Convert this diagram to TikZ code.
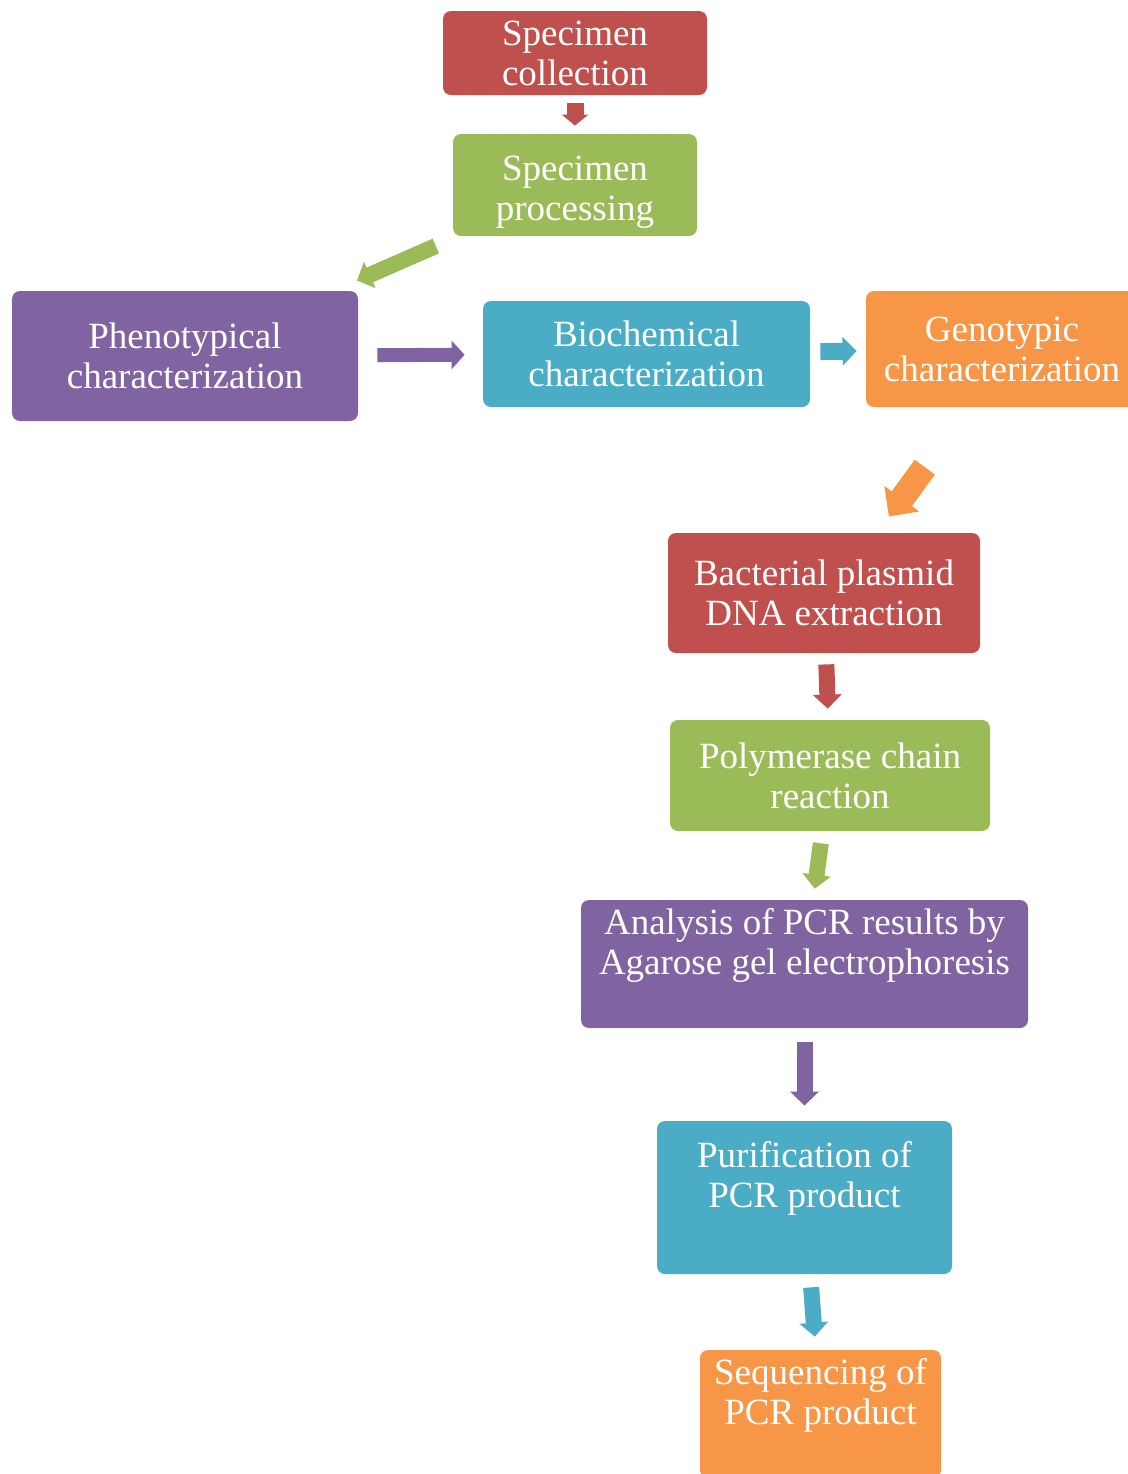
\documentclass[tikz,border=0pt]{standalone}
\usepackage{fontspec}
\setmainfont{Liberation Serif}
\usetikzlibrary{arrows.meta}
\definecolor{stepred}{HTML}{C0504D}
\definecolor{stepgreen}{HTML}{9BBB59}
\definecolor{steppurple}{HTML}{8064A2}
\definecolor{stepblue}{HTML}{4BACC6}
\definecolor{steporange}{HTML}{F79646}
\begin{document}
\begin{tikzpicture}[x=0.5pt,y=-0.5pt]
  \tikzset{
    stage/.style={
      rectangle,
      rounded corners=4pt,
      text=white,
      align=center,
      inner sep=2pt,
      font=\fontsize{18.5}{20}\selectfont,
      execute at begin node={\rule{0pt}{15.5pt}}
    },
    flow/.style={
      line width=8pt,
      -{Triangle[width=14pt,length=7pt]}
    },
    bigflow/.style={
      line width=12.5pt,
      -{Triangle[width=21pt,length=11pt]}
    }
  }

  \useasboundingbox (0,0) rectangle (1128,1474);

  \node[stage, fill=stepred, minimum width=132pt, minimum height=42pt] (sc) at (575,53) {Specimen\\collection};
  \node[stage, fill=stepgreen, minimum width=122pt, minimum height=51pt] (sp) at (575,185) {\rule{0pt}{19pt}Specimen\\processing};
  \node[stage, fill=steppurple, minimum width=173pt, minimum height=65pt] (ph) at (185,356) {Phenotypical\\characterization};
  \node[stage, fill=stepblue, minimum width=163.5pt, minimum height=53pt] (bc) at (646.5,354) {Biochemical\\characterization};
  \node[stage, fill=steporange, minimum width=136pt, minimum height=58pt] (gt) at (1002,349) {Genotypic\\characterization};
  \node[stage, fill=stepred, minimum width=156pt, minimum height=60pt] (bp) at (824,593) {Bacterial plasmid\\DNA extraction};
  \node[stage, fill=stepgreen, minimum width=160pt, minimum height=55.5pt] (pcr) at (830,775.5) {Polymerase chain\\reaction};
  \node[stage, fill=steppurple, minimum width=223.5pt, minimum height=64pt] (an) at (804.5,964) {Analysis of PCR results by\\Agarose gel electrophoresis\\[-3pt]\strut};
  \node[stage, fill=stepblue, minimum width=147.5pt, minimum height=76.5pt] (pu) at (804.5,1197.5) {Purification of\\PCR product\\[-3pt]\strut};
  \node[stage, fill=steporange, minimum width=120.5pt, minimum height=64pt] (sq) at (820.5,1414) {Sequencing of\\PCR product\\[-3pt]\strut};

  \draw[stepred, line width=8.5pt, -{Triangle[width=13pt,length=5.5pt]}, shorten <=4pt, shorten >=4pt] (sc) -- (sp);
  \draw[stepgreen, flow, shorten <=12pt, shorten >=12.5pt] (sp) -- (ph);
  \draw[steppurple, line width=7pt, -{Triangle[width=14pt,length=6.5pt]}, shorten <=9.5pt, shorten >=9pt] (ph) -- (bc);
  \draw[stepblue, line width=8.5pt, -{Triangle[width=14pt,length=7pt]}, shorten <=5pt, shorten >=4.5pt] (bc) -- (gt);
  \draw[steporange, bigflow, transform canvas={xshift=4.5pt}, shorten <=37pt, shorten >=10pt] (gt) -- (bp);
  \draw[stepred, flow, shorten <=5.5pt, shorten >=5.5pt] (bp) -- (pcr);
  \draw[stepgreen, flow, shorten <=6pt, shorten >=5.5pt] (pcr) -- (an);
  \draw[steppurple, flow, shorten <=7pt, shorten >=7.5pt] (an) -- (pu);
  \draw[stepblue, flow, shorten <=6.5pt, shorten >=6.5pt] (pu) -- (sq);
\end{tikzpicture}
\end{document}
